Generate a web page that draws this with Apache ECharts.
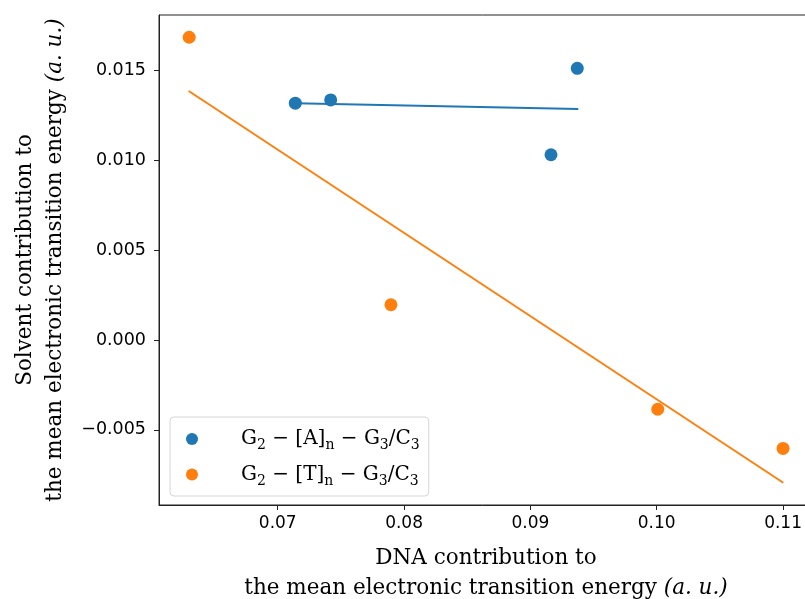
<!DOCTYPE html>
<html>
<head>
<meta charset="utf-8">
<script src="https://cdn.jsdelivr.net/npm/echarts@6/dist/echarts.min.js"></script>
<style>
  html, body { margin: 0; padding: 0; background: #fff; }
  #chart { width: 805px; height: 599px; }
</style>
</head>
<body>
<div id="chart"></div>
<script>
// points
var seriesNames = ["G2-[A]n-G3/C3", "G2-[T]n-G3/C3"];
var legendBase = ["A", "T"];
var blueX = [0.07139, 0.07419, 0.09163, 0.09371];
var blueY = [0.01319, 0.01337, 0.01032, 0.01513];
var orangeX = [0.06299, 0.07896, 0.10008, 0.11000];
var orangeY = [0.01686, 0.00197, -0.00385, -0.00603];
// fitted line end points
var blueFitX = [0.07139, 0.09379];
var blueFitY = [0.01319, 0.01287];
var orangeFitX = [0.06295, 0.11002];
var orangeFitY = [0.01387, -0.00794];

function pairs(xs, ys) {
  var out = [];
  for (var i = 0; i < xs.length; i++) out.push([xs[i], ys[i]]);
  return out;
}

var serif = "DejaVu Serif";
var sans = "DejaVu Sans";

var chart = echarts.init(document.getElementById("chart"));
var option = {
  animation: false,
  backgroundColor: "#fff",
  grid: {
    left: 159, top: 15, width: 654, height: 490,
    outerBoundsMode: "none",
    show: true, borderColor: "#222", borderWidth: 1, backgroundColor: "transparent"
  },
  legend: {
    data: seriesNames,
    orient: "vertical",
    left: 170, top: 417,
    icon: "circle",
    itemWidth: 30, itemHeight: 12,
    itemGap: 12,
    padding: [12, 9, 8, 16],
    backgroundColor: "#fff",
    borderColor: "#d6d6d6", borderWidth: 1, borderRadius: 4,
    formatter: function (name) {
      var b = name.indexOf("[A]") >= 0 ? legendBase[0] : legendBase[1];
      return "{p|}{t|G}{s|2}{t| \u2212 [" + b + "]}{s|n}{t| \u2212 G}{s|3}{t|/C}{s|3}";
    },
    textStyle: {
      fontFamily: serif, fontSize: 20, color: "#000",
      rich: {
        p: { width: 29, lineHeight: 27 },
        t: { fontFamily: serif, fontSize: 20, color: "#000", lineHeight: 27, verticalAlign: "middle" },
        s: { fontFamily: serif, fontSize: 14, color: "#000", lineHeight: 14, verticalAlign: "bottom" }
      }
    }
  },
  xAxis: {
    type: "value",
    min: 0.0606, max: 0.11237,
    splitNumber: 5,
    splitLine: { show: false },
    axisLine: { onZero: false, lineStyle: { color: "#222", width: 1 } },
    axisTick: { length: 5, lineStyle: { color: "#222" } },
    axisLabel: {
      showMinLabel: false, showMaxLabel: false,
      fontFamily: sans, fontSize: 17, color: "#000", margin: 10,
      formatter: function (v) { return v.toFixed(2); }
    },
    name: "DNA contribution to\nthe mean electronic transition energy {i|(a. u.)}",
    nameLocation: "middle",
    nameGap: 38,
    nameTextStyle: {
      fontFamily: serif, fontSize: 21.5, color: "#000", lineHeight: 30,
      rich: { i: { fontFamily: serif, fontStyle: "italic", fontSize: 21.5, color: "#000", lineHeight: 30 } }
    }
  },
  yAxis: {
    type: "value",
    min: -0.00918, max: 0.0181,
    splitNumber: 5,
    splitLine: { show: false },
    axisLine: { onZero: false, lineStyle: { color: "#222", width: 1 } },
    axisTick: { length: 5, lineStyle: { color: "#222" } },
    axisLabel: {
      showMinLabel: false, showMaxLabel: false,
      fontFamily: sans, fontSize: 17.5, color: "#000", margin: 13,
      formatter: function (v) {
        var s = Math.abs(v).toFixed(3);
        return v < -1e-9 ? "\u2212" + s : s;
      }
    },
    name: "Solvent contribution to\nthe mean electronic transition energy {i|(a. u.)}",
    nameLocation: "middle",
    nameGap: 85,
    nameTextStyle: {
      fontFamily: serif, fontSize: 21.5, color: "#000", lineHeight: 30,
      rich: { i: { fontFamily: serif, fontStyle: "italic", fontSize: 21.5, color: "#000", lineHeight: 30 } }
    }
  },
  series: [
    {
      name: "fitA", type: "line", data: pairs(blueFitX, blueFitY),
      symbol: "none", lineStyle: { color: "#1f77b4", width: 2 }, z: 2
    },
    {
      name: "fitT", type: "line", data: pairs(orangeFitX, orangeFitY),
      symbol: "none", lineStyle: { color: "#ff7f0e", width: 2 }, z: 2
    },
    {
      name: seriesNames[0], type: "scatter", data: pairs(blueX, blueY),
      symbolSize: 13, itemStyle: { color: "#1f77b4", opacity: 1 }, z: 3
    },
    {
      name: seriesNames[1], type: "scatter", data: pairs(orangeX, orangeY),
      symbolSize: 13, itemStyle: { color: "#ff7f0e", opacity: 1 }, z: 3
    }
  ]
};
chart.setOption(option);
</script>
</body>
</html>
